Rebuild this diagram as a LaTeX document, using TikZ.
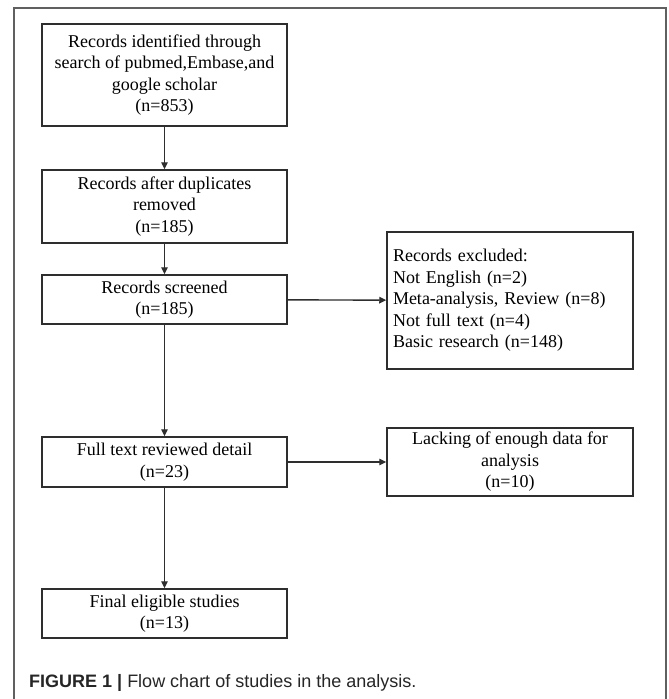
\documentclass[tikz,border=0pt]{standalone}
\usepackage{fontspec}
\setmainfont{Liberation Serif}
\newfontfamily\capfont{Liberation Sans}
\usetikzlibrary{arrows.meta}
\definecolor{boxline}{HTML}{2E2E2E}
\definecolor{frameline}{HTML}{606060}
\definecolor{captext}{HTML}{262626}
\tikzset{
  flowbox/.style={draw=boxline, line width=1.5pt, rectangle, inner sep=0pt, align=center,
    font=\fontsize{18}{21.5}\selectfont, text=black},
  flowarrow/.style={draw=boxline, line width=1.4pt, -{Triangle[length=7pt,width=6.5pt]}},
}
\begin{document}
\begin{tikzpicture}[x=1pt,y=-1pt]
\useasboundingbox (0,0) rectangle (669,699);
\fill[white] (0,0) rectangle (669,699);
% outer frame (open at bottom)
\draw[frameline, line width=1.5pt] (14,699) -- (14,8) -- (666,8) -- (666,699);

\node[flowbox, minimum width=245pt, minimum height=102pt] (b1) at (164.5,75)
  {Records identified through\\search of pubmed,Embase,and\\google scholar\\(n=853)};
\node[flowbox, minimum width=245pt, minimum height=73pt] (b2) at (164.5,206.5)
  {Records after duplicates\\removed\\(n=185)};
\node[flowbox, minimum width=245pt, minimum height=49pt] (b3) at (164.5,299.5)
  {Records screened\\(n=185)};
\node[flowbox, minimum width=246pt, minimum height=137pt, align=left, text width=234pt] (ex) at (510,300.5)
  {Records excluded:\\Not English (n=2)\\Meta-analysis, Review (n=8)\\Not full text (n=4)\\Basic research (n=148)};
\node[flowbox, minimum width=245pt, minimum height=50pt] (b4) at (164.5,462)
  {Full text reviewed detail\\(n=23)};
\node[flowbox, minimum width=246pt, minimum height=68pt] (lk) at (510,462)
  {Lacking of enough data for\\analysis\\(n=10)};
\node[flowbox, minimum width=245pt, minimum height=49pt] (b5) at (164.5,613.5)
  {Final eligible studies\\(n=13)};

\draw[flowarrow] (b1) -- (b2);
\draw[flowarrow] (b2) -- (b3);
\draw[flowarrow] (b3) -- (b4);
\draw[flowarrow] (b4) -- (b5);
\draw[flowarrow] (b3) -- (ex);
\draw[flowarrow] (b4) -- (lk);

\node[anchor=base west, inner sep=0pt, text=captext, font=\capfont\fontsize{18}{21}\selectfont] (cap) at (29,687)
  {\textbf{FIGURE 1 |} Flow chart of studies in the analysis.};
\end{tikzpicture}
\end{document}
